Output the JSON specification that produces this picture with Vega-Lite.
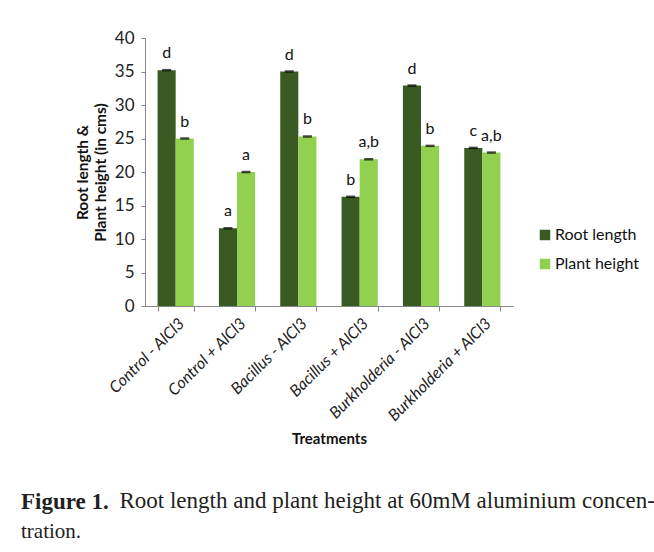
{
  "$schema": "https://vega.github.io/schema/vega-lite/v6.json",
  "width": 368,
  "height": 268,
  "autosize": {"type": "none"},
  "padding": {"left": 145, "top": 38, "right": 141, "bottom": 246},
  "background": "white",
  "config": {"view": {"stroke": null}, "font": "Lato"},
  "title": {
    "text": "Figure 1.",
    "subtitle": "tration.",
    "orient": "bottom",
    "anchor": "start",
    "frame": "group",
    "dx": -124,
    "offset": -21,
    "font": "Liberation Serif",
    "fontSize": 23,
    "fontWeight": "bold",
    "color": "#231f20",
    "subtitleFont": "Liberation Serif",
    "subtitleFontSize": 21,
    "subtitleColor": "#231f20",
    "subtitlePadding": 7
  },
  "data": {
    "values": [
      {"treatment": "Control - AlCl3", "series": "Root length", "value": 35.2, "label": "d"},
      {"treatment": "Control - AlCl3", "series": "Plant height", "value": 25.0, "label": "b"},
      {"treatment": "Control + AlCl3", "series": "Root length", "value": 11.6, "label": "a"},
      {"treatment": "Control + AlCl3", "series": "Plant height", "value": 20.0, "label": "a"},
      {"treatment": "Bacillus - AlCl3", "series": "Root length", "value": 35.0, "label": "d"},
      {"treatment": "Bacillus - AlCl3", "series": "Plant height", "value": 25.3, "label": "b"},
      {"treatment": "Bacillus + AlCl3", "series": "Root length", "value": 16.3, "label": "b"},
      {"treatment": "Bacillus + AlCl3", "series": "Plant height", "value": 21.9, "label": "a,b"},
      {"treatment": "Burkholderia - AlCl3", "series": "Root length", "value": 32.9, "label": "d"},
      {"treatment": "Burkholderia - AlCl3", "series": "Plant height", "value": 23.9, "label": "b"},
      {"treatment": "Burkholderia + AlCl3", "series": "Root length", "value": 23.6, "label": "c"},
      {"treatment": "Burkholderia + AlCl3", "series": "Plant height", "value": 22.9, "label": "a,b"}
    ]
  },
  "encoding": {
    "x": {
      "field": "treatment",
      "type": "nominal",
      "sort": null,
      "scale": {"paddingInner": 0.41, "paddingOuter": 0.205},
      "axis": null
    },
    "xOffset": {"field": "series", "type": "nominal", "sort": ["Root length", "Plant height"], "scale": {"paddingInner": 0, "paddingOuter": 0}},
    "y": {
      "field": "value",
      "type": "quantitative",
      "scale": {"domain": [0, 40], "nice": false},
      "axis": {
        "values": [0, 5, 10, 15, 20, 25, 30, 35, 40],
        "grid": false,
        "domainColor": "#868686",
        "tickColor": "#868686",
        "tickSize": 4,
        "labelFontSize": 17,
        "labelColor": "#222",
        "labelPadding": 7,
        "title": ["Root length &", "Plant height (in cms)"],
        "titleFontSize": 15.5,
        "titleFontWeight": "bold",
        "titleColor": "#111",
        "titlePadding": 6,
        "titleLineHeight": 18
      }
    }
  },
  "layer": [
    {
      "mark": {"type": "bar"},
      "encoding": {
        "color": {
          "field": "series",
          "type": "nominal",
          "sort": ["Root length", "Plant height"],
          "scale": {"domain": ["Root length", "Plant height"], "range": ["#3a5a24", "#92d050"]},
          "legend": {
            "title": null,
            "orient": "none",
            "legendX": 392,
            "legendY": 189,
            "symbolType": "square",
            "symbolSize": 110,
            "symbolStrokeWidth": 0,
            "labelFontSize": 16,
            "labelColor": "#111",
            "labelOffset": 2,
            "rowPadding": 13
          }
        },
        "x": {
          "field": "treatment",
          "type": "nominal",
          "sort": null,
          "axis": {
            "title": "Treatments",
            "titleFontSize": 15,
            "titleFontWeight": "bold",
            "titleColor": "#111",
            "titleY": 132,
            "titleBaseline": "middle",
            "labelAngle": -45,
            "labelFontSize": 16,
            "labelFontStyle": "italic",
            "labelColor": "#222",
            "labelPadding": 4,
            "tickBand": "extent",
            "tickSize": 5,
            "tickColor": "#868686",
            "domainColor": "#868686"
          }
        }
      }
    },
    {
      "mark": {"type": "tick", "color": "black", "thickness": 2.5, "size": 9},
      "encoding": {}
    },
    {
      "mark": {"type": "text", "baseline": "bottom", "dy": -9, "fontSize": 16, "color": "#111"},
      "encoding": {
        "text": {"field": "label"},
        "x": {
          "field": "treatment",
          "type": "nominal",
          "sort": null,
          "axis": {
            "orient": "bottom",
            "labels": false,
            "ticks": false,
            "domain": false,
            "grid": false,
            "title": "Root length and plant height at 60mM aluminium concen-",
            "titleX": -26,
            "titleY": 201,
            "titleAlign": "left",
            "titleAnchor": null,
            "titleAngle": 0,
            "titleBaseline": "alphabetic",
            "titleFont": "Liberation Serif",
            "titleFontSize": 23,
            "titleFontWeight": "normal",
            "titleColor": "#231f20"
          }
        }
      }
    }
  ],
  "resolve": {"axis": {"x": "independent"}}
}
